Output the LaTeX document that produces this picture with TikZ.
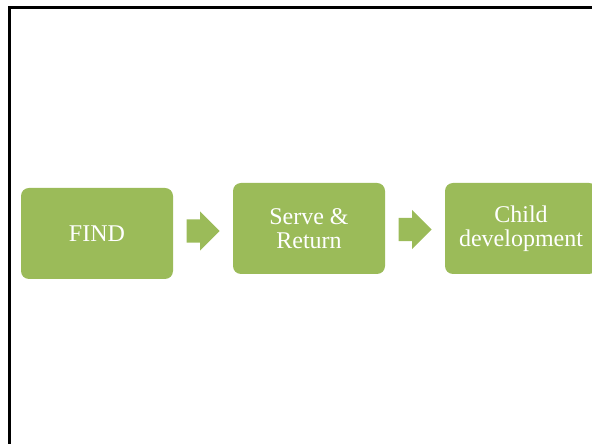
\documentclass[tikz,border=0pt]{standalone}
\usepackage{fontspec}
\setmainfont{Liberation Serif}
\usepackage{xcolor}
\usetikzlibrary{shapes,shapes.arrows}
\usetikzlibrary{calc}
\definecolor{leaf}{RGB}{155,187,89}
\tikzset{
  stage/.style={fill=leaf, rounded corners=8pt, minimum width=152pt, minimum height=91pt,
    text=white, align=center, font=\fontsize{24}{23.5}\selectfont, inner sep=0pt},
  flow/.style={shape=single arrow, fill=leaf, minimum height=33pt, inner xsep=0pt,
    inner ysep=11.5pt, single arrow head extend=8pt, anchor=tail}
}

\begin{document}
\begin{tikzpicture}[x=1pt, y=1pt]
        \clip (0,0) rectangle (592,444);
        \useasboundingbox (0,0) rectangle (592,444);
        % Frame
        \draw [line width=3pt, black] (9.5,-5) -- (9.5,436.3) -- (600,436.3);

        % Stages
        \node[stage] (find) at (97,210.5) {FIND};
        \node[stage] (serve) at (309,215.5) {Serve \&\\Return};
        \node[stage] (child) at (521,215.5) {Child\\development};

        % Arrows
        \node[flow] (findserve) at ($(find.east)!0.5!(serve.west)+(-16.5,0)$) {};
        \node[flow] (servechild) at ($(serve.east)!0.5!(child.west)+(-16.5,-1)$) {};
      \end{tikzpicture}
\end{document}
